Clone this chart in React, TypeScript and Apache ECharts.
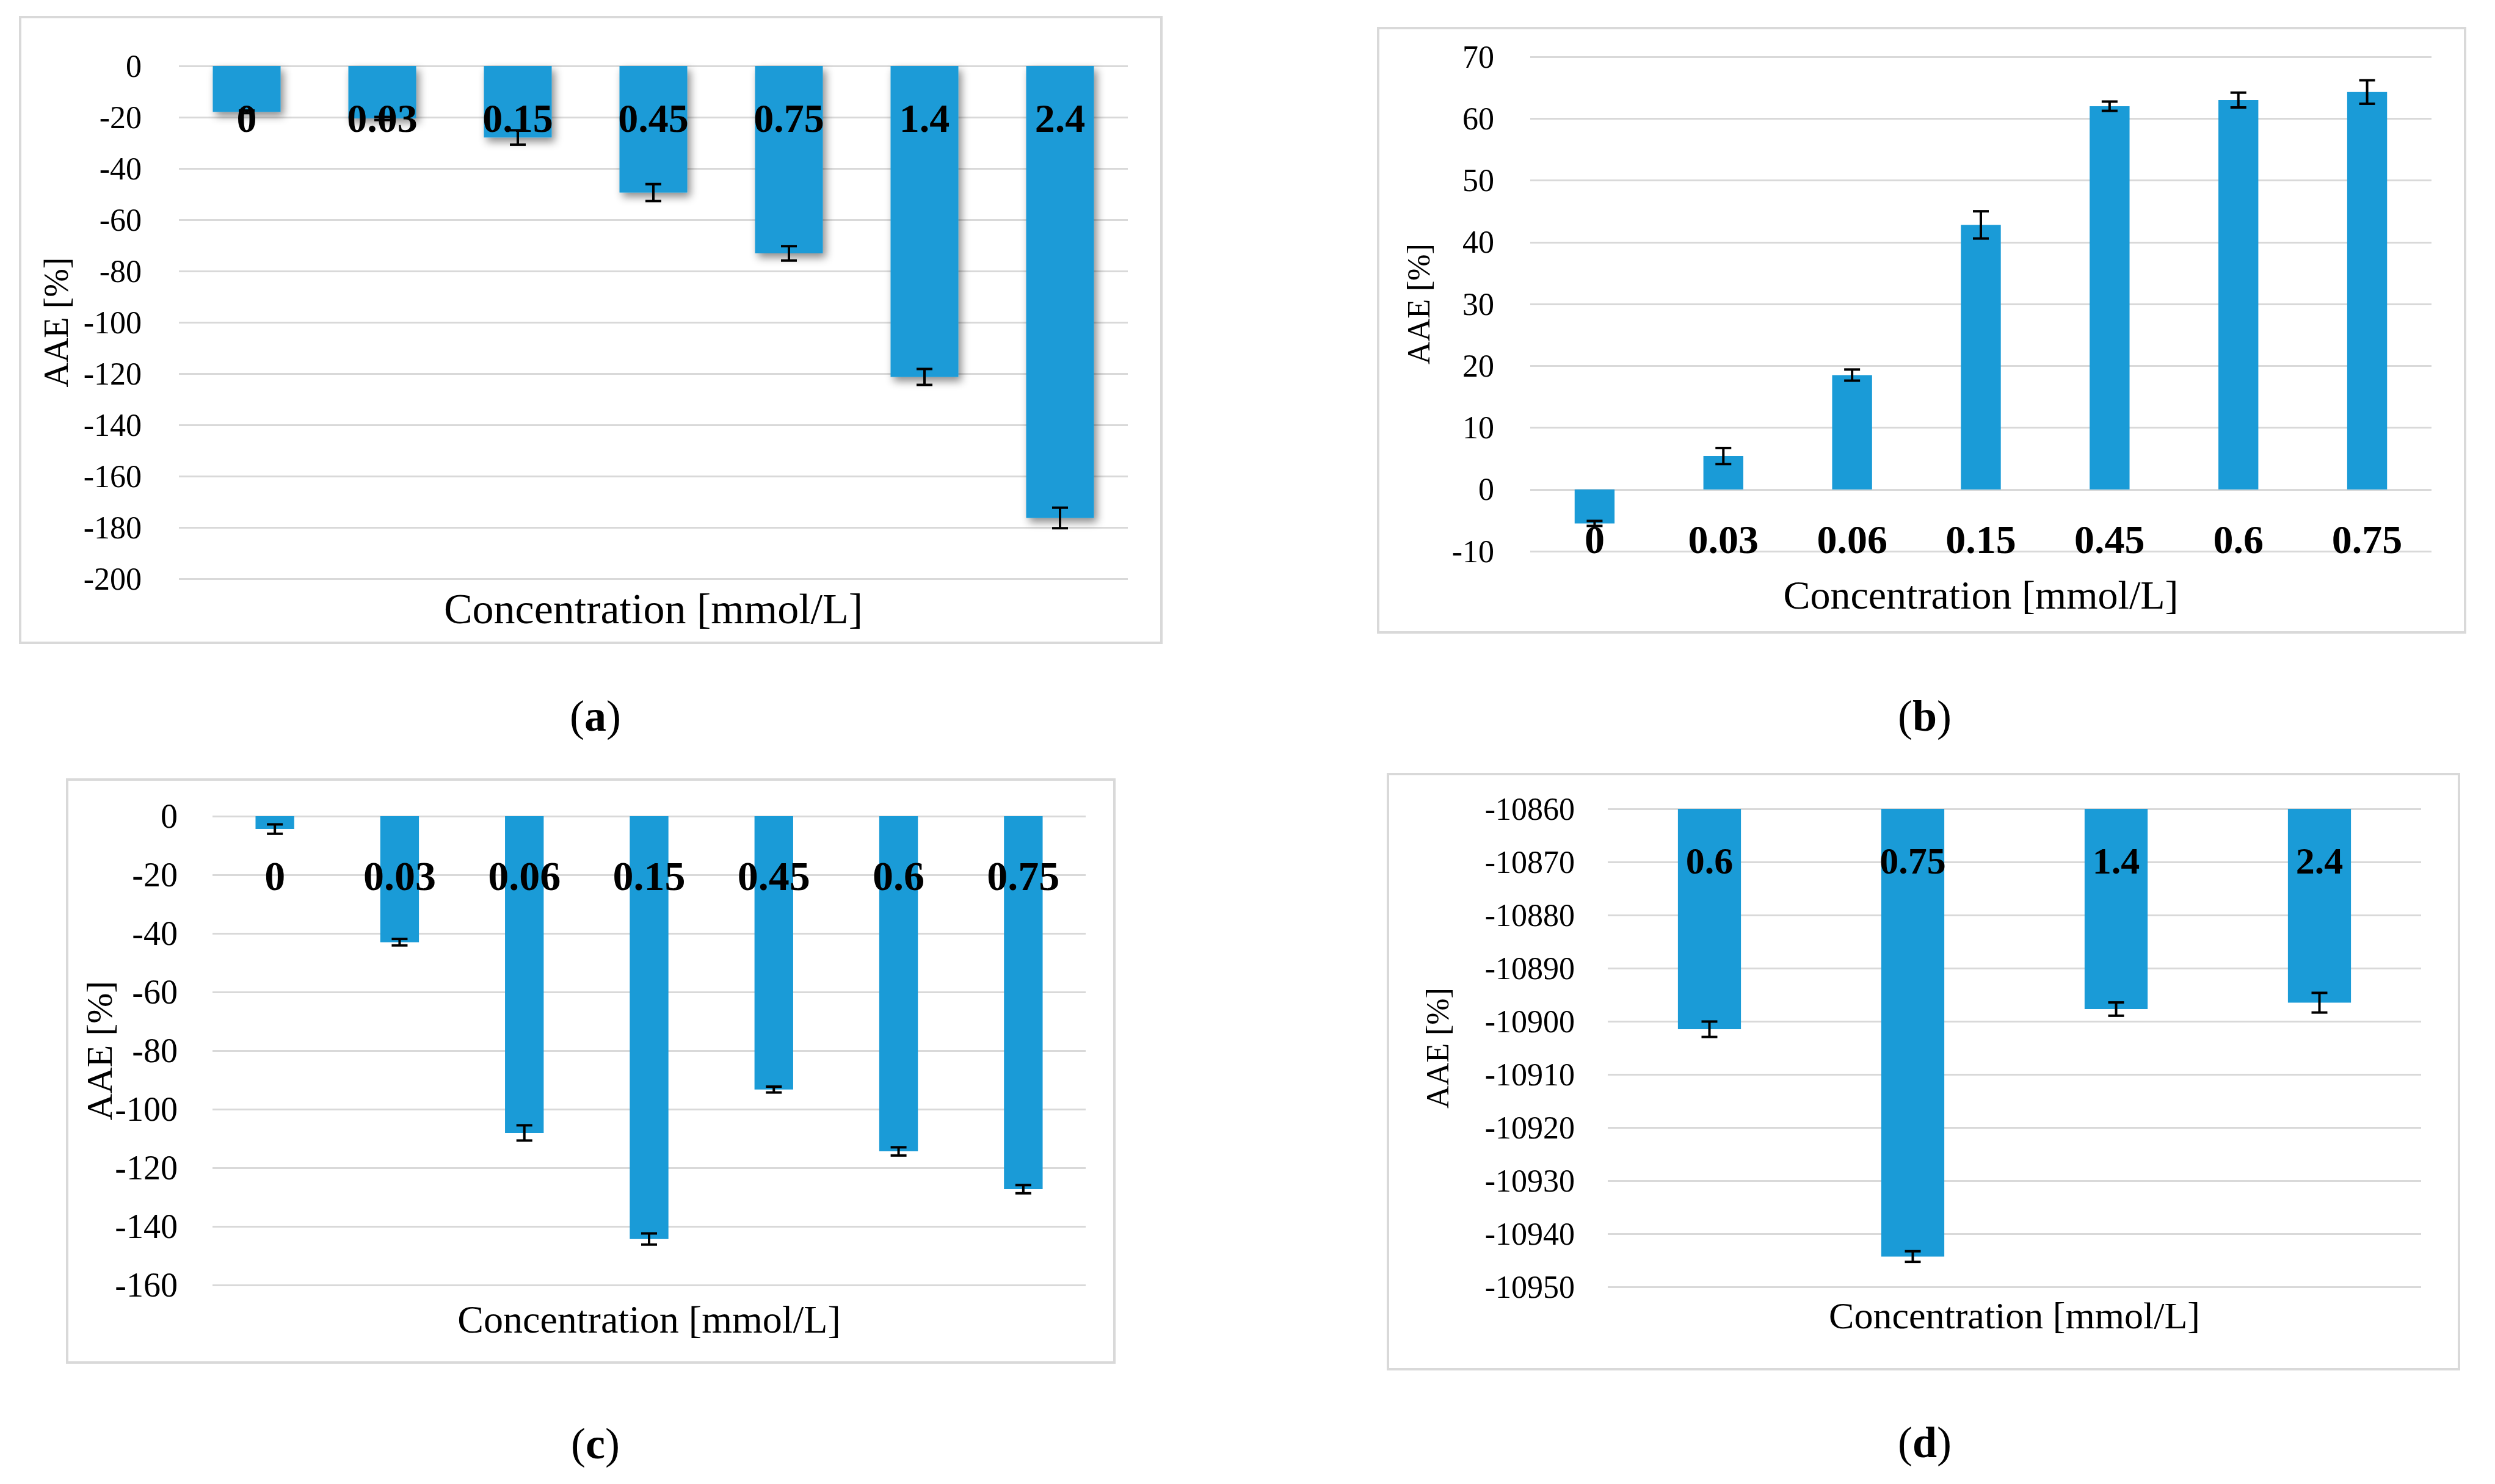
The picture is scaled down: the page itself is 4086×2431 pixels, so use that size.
import React, { useEffect, useRef } from "react";
import * as echarts from "echarts";

// ---- data ----
const catsA = ["0", "0.03", "0.15", "0.45", "0.75", "1.4", "2.4"];
const valsA = [-17.9, -20.5, -27.9, -49.4, -73.1, -121.3, -176.3];
const errA = [0.5, 0.6, 2.8, 3.3, 2.8, 3.1, 4.0];

const catsB = ["0", "0.03", "0.06", "0.15", "0.45", "0.6", "0.75"];
const valsB = [-5.5, 5.4, 18.5, 42.8, 62.0, 63.0, 64.3];
const errB = [0.4, 1.3, 0.9, 2.2, 0.75, 1.2, 1.9];

const catsC = ["0", "0.03", "0.06", "0.15", "0.45", "0.6", "0.75"];
const valsC = [-4.4, -43.0, -108.1, -144.3, -93.3, -114.4, -127.3];
const errC = [1.6, 1.1, 2.6, 1.9, 1.0, 1.4, 1.4];

const catsD = ["0.6", "0.75", "1.4", "2.4"];
const valsD = [-10901.5, -10944.3, -10897.7, -10896.5];
const errD = [1.45, 1.0, 1.25, 1.85];

const axisRangeA = { min: -200, max: 0, interval: 20 };
const axisRangeB = { min: -10, max: 70, interval: 10 };
const axisRangeC = { min: -160, max: 0, interval: 20 };
const axisRangeD = { min: -10950, max: -10860, interval: 10 };

const xTitle = "Concentration [mmol/L]";
const yTitle = "AAE [%]";
const captions = ["a", "b", "c", "d"];

// ---- styles ----
const FONT = "'Liberation Serif', 'Times New Roman', serif";
const BAR = "#1A9BD7";
const GRIDC = "#D9D9D9";

const panels = [
  {
    cats: catsA, vals: valsA, errs: errA, range: axisRangeA,
    grid: { left: 293, top: 108, width: 1554, height: 840 },
    barWidth: "50%", tickFont: 52, tickMargin: 61, labFont: 66, labMargin: 52,
    shadow: true,
    border: [33, 28, 1902, 1053], xName: [1070, 997, 70], yName: [92, 528, 56], cap: [975, 1173],
  },
  {
    cats: catsB, vals: valsB, errs: errB, range: axisRangeB,
    grid: { left: 2506, top: 93, width: 1476, height: 810 },
    barWidth: "31%", tickFont: 52, tickMargin: 59, labFont: 66, labMargin: 49,
    shadow: false,
    border: [2257, 46, 4037, 1036], xName: [3244, 974, 66], yName: [2323, 498, 52], cap: [3152, 1173],
  },
  {
    cats: catsC, vals: valsC, errs: errC, range: axisRangeC,
    grid: { left: 348, top: 1337, width: 1430, height: 768 },
    barWidth: "31%", tickFont: 56, tickMargin: 57, labFont: 68, labMargin: 64,
    shadow: false,
    border: [110, 1277, 1825, 2232], xName: [1063, 2161, 64], yName: [163, 1721, 60], cap: [975, 2365],
  },
  {
    cats: catsD, vals: valsD, errs: errD, range: axisRangeD,
    grid: { left: 2633, top: 1325, width: 1332, height: 783 },
    barWidth: "31%", tickFont: 52, tickMargin: 54, labFont: 62, labMargin: 54,
    shadow: false,
    border: [2273, 1268, 4027, 2243], xName: [3299, 2155, 62], yName: [2354, 1717, 52], cap: [3152, 2363],
  },
];

// distance (px) from the top of the plot down to where the category axis crosses the value axis
function crossOffset(range: { min: number; max: number }, height: number) {
  const cross = Math.min(Math.max(0, range.min), range.max);
  return ((range.max - cross) / (range.max - range.min)) * height;
}

function buildOption() {
  const grid: any[] = [];
  const xAxis: any[] = [];
  const yAxis: any[] = [];
  const series: any[] = [];
  const graphic: any[] = [];

  panels.forEach((p, i) => {
    grid.push({ ...p.grid, containLabel: false, outerBoundsMode: "none" });
    xAxis.push({
      type: "category",
      gridIndex: i,
      data: p.cats,
      position: "top",
      offset: -crossOffset(p.range, p.grid.height),
      z: 10,
      axisLine: { show: false, onZero: false },
      axisTick: { show: false },
      splitLine: { show: false },
      axisLabel: {
        inside: true,
        margin: p.labMargin,
        fontFamily: FONT,
        fontWeight: "bold",
        fontSize: p.labFont,
        color: "#000",
        interval: 0,
      },
    });
    yAxis.push({
      type: "value",
      gridIndex: i,
      min: p.range.min,
      max: p.range.max,
      interval: p.range.interval,
      axisLine: { show: false },
      axisTick: { show: false },
      splitLine: { show: true, lineStyle: { color: GRIDC, width: 3 } },
      axisLabel: {
        margin: p.tickMargin,
        fontFamily: FONT,
        fontSize: p.tickFont,
        color: "#000",
        formatter: (v: number) => String(v),
      },
    });
    series.push({
      type: "bar",
      xAxisIndex: i,
      yAxisIndex: i,
      data: p.vals,
      barWidth: p.barWidth,
      clip: true,
      itemStyle: p.shadow
        ? { color: BAR, shadowBlur: 14, shadowColor: "rgba(0,0,0,0.45)", shadowOffsetX: 5, shadowOffsetY: 7 }
        : { color: BAR },
      z: 2,
    });
    series.push({
      type: "custom",
      xAxisIndex: i,
      yAxisIndex: i,
      z: 5,
      data: p.vals.map((v, k) => [k, v - p.errs[k], v + p.errs[k]]),
      encode: { x: 0, y: [1, 2] },
      renderItem: (params: any, api: any) => {
        const idx = api.value(0);
        const lo = api.coord([idx, api.value(1)]);
        const hi = api.coord([idx, api.value(2)]);
        const hw = 13;
        const st = { stroke: "#000", lineWidth: 4 };
        return {
          type: "group",
          children: [
            { type: "line", shape: { x1: lo[0], y1: lo[1], x2: hi[0], y2: hi[1] }, style: st },
            { type: "line", shape: { x1: lo[0] - hw, y1: lo[1], x2: lo[0] + hw, y2: lo[1] }, style: st },
            { type: "line", shape: { x1: hi[0] - hw, y1: hi[1], x2: hi[0] + hw, y2: hi[1] }, style: st },
          ],
        };
      },
    });

    const [bx1, by1, bx2, by2] = p.border;
    graphic.push({
      type: "rect",
      z: -10,
      shape: { x: bx1, y: by1, width: bx2 - bx1, height: by2 - by1 },
      style: { fill: "#fff", stroke: GRIDC, lineWidth: 4 },
      silent: true,
    });
    graphic.push({
      type: "text",
      x: p.xName[0],
      y: p.xName[1],
      style: {
        text: xTitle,
        font: `${p.xName[2]}px ${FONT}`,
        fill: "#000",
        align: "center",
        verticalAlign: "middle",
      },
    });
    graphic.push({
      type: "text",
      x: p.yName[0],
      y: p.yName[1],
      rotation: Math.PI / 2,
      style: {
        text: yTitle,
        font: `${p.yName[2]}px ${FONT}`,
        fill: "#000",
        align: "center",
        verticalAlign: "middle",
      },
    });
    graphic.push({
      type: "text",
      x: p.cap[0],
      y: p.cap[1],
      style: {
        text: `{n|(}{b|${captions[i]}}{n|)}`,
        align: "center",
        verticalAlign: "middle",
        rich: {
          n: { fontFamily: FONT, fontSize: 72, fill: "#000", color: "#000" },
          b: { fontFamily: FONT, fontSize: 72, fontWeight: "bold", fill: "#000", color: "#000" },
        },
      },
    });
  });

  return {
    animation: false,
    backgroundColor: "#fff",
    grid,
    xAxis,
    yAxis,
    series,
    graphic: { elements: graphic },
  };
}

export default function App() {
  const ref = useRef<HTMLDivElement>(null);
  useEffect(() => {
    if (!ref.current) return;
    const chart = echarts.init(ref.current, undefined, { renderer: "svg" });
    chart.setOption(buildOption() as any);
    return () => chart.dispose();
  }, []);
  return (
    <div
      ref={ref}
      style={{ position: "absolute", left: 0, top: 0, width: 4086, height: 2431, background: "#fff" }}
    />
  );
}
